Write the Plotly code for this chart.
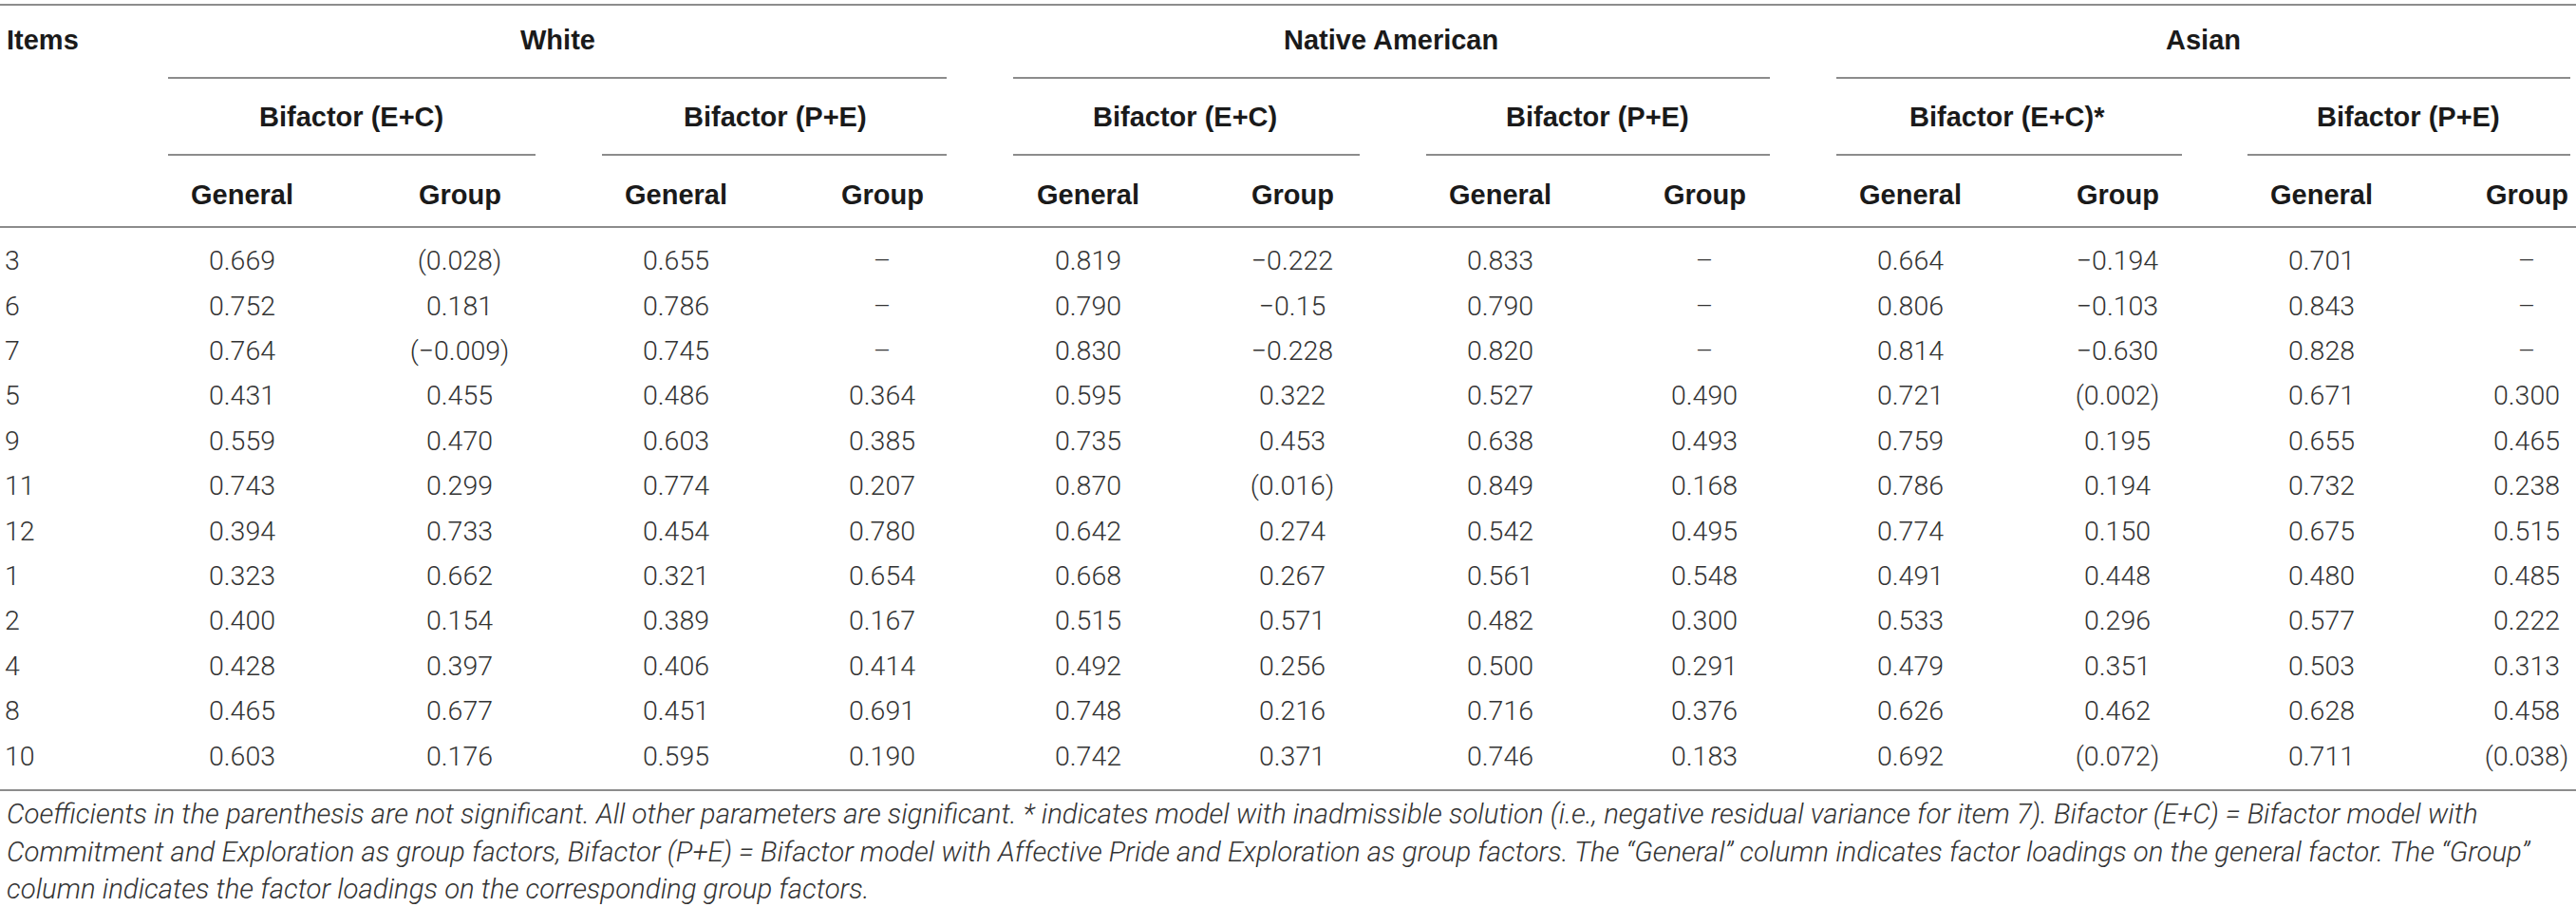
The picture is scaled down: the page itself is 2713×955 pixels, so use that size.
import plotly.graph_objects as go

# table content
items = ["3", "6", "7", "5", "9", "11", "12", "1", "2", "4", "8", "10"]

white_ec_general = ["0.669", "0.752", "0.764", "0.431", "0.559", "0.743", "0.394", "0.323", "0.400", "0.428", "0.465", "0.603"]
white_ec_group = ["(0.028)", "0.181", "(−0.009)", "0.455", "0.470", "0.299", "0.733", "0.662", "0.154", "0.397", "0.677", "0.176"]
white_pe_general = ["0.655", "0.786", "0.745", "0.486", "0.603", "0.774", "0.454", "0.321", "0.389", "0.406", "0.451", "0.595"]
white_pe_group = ["–", "–", "–", "0.364", "0.385", "0.207", "0.780", "0.654", "0.167", "0.414", "0.691", "0.190"]

na_ec_general = ["0.819", "0.790", "0.830", "0.595", "0.735", "0.870", "0.642", "0.668", "0.515", "0.492", "0.748", "0.742"]
na_ec_group = ["−0.222", "−0.15", "−0.228", "0.322", "0.453", "(0.016)", "0.274", "0.267", "0.571", "0.256", "0.216", "0.371"]
na_pe_general = ["0.833", "0.790", "0.820", "0.527", "0.638", "0.849", "0.542", "0.561", "0.482", "0.500", "0.716", "0.746"]
na_pe_group = ["–", "–", "–", "0.490", "0.493", "0.168", "0.495", "0.548", "0.300", "0.291", "0.376", "0.183"]

asian_ec_general = ["0.664", "0.806", "0.814", "0.721", "0.759", "0.786", "0.774", "0.491", "0.533", "0.479", "0.626", "0.692"]
asian_ec_group = ["−0.194", "−0.103", "−0.630", "(0.002)", "0.195", "0.194", "0.150", "0.448", "0.296", "0.351", "0.462", "(0.072)"]
asian_pe_general = ["0.701", "0.843", "0.828", "0.671", "0.655", "0.732", "0.675", "0.480", "0.577", "0.503", "0.628", "0.711"]
asian_pe_group = ["–", "–", "–", "0.300", "0.465", "0.238", "0.515", "0.485", "0.222", "0.313", "0.458", "(0.038)"]

groups = ["White", "Native American", "Asian"]
models = ["Bifactor (E+C)", "Bifactor (P+E)", "Bifactor (E+C)", "Bifactor (P+E)", "Bifactor (E+C)*", "Bifactor (P+E)"]
sub_cols = ["General", "Group"] * 6

footnote = [
    "Coefficients in the parenthesis are not significant. All other parameters are significant. * indicates model with "
    "inadmissible solution (i.e., negative residual variance for item 7). Bifactor (E+C) = Bifactor model with",
    "Commitment and Exploration as group factors, Bifactor (P+E) = Bifactor model with Affective Pride and Exploration "
    "as group factors. The “General” column indicates factor loadings on the general factor. The “Group”",
    "column indicates the factor loadings on the corresponding group factors.",
]

columns = [white_ec_general, white_ec_group, white_pe_general, white_pe_group,
           na_ec_general, na_ec_group, na_pe_general, na_pe_group,
           asian_ec_general, asian_ec_group, asian_pe_general, asian_pe_group]

# layout, in page pixels (axes map 1:1 onto the page)
W, H = 2713, 955
col_x = [255, 484, 712, 929, 1146, 1361, 1580, 1795, 2012, 2230, 2445, 2661]
group_x = [587, 1465, 2320]
model_x = [370, 816, 1248, 1682, 2114, 2536]
group_spans = [(177, 997), (1067, 1864), (1934, 2707)]
model_spans = [(177, 564), (634, 997), (1067, 1432), (1502, 1864), (1934, 2298), (2367, 2707)]
row0, row_step = 277, 47.4
row_y = [row0 + i * row_step for i in range(len(items))]

HEAD = dict(family="Liberation Sans, Arial, sans-serif", size=29, color="#1a1a1a", weight="bold")
BODY = dict(family="Roboto, Liberation Sans, sans-serif", size=28.5, color="#333333", weight=300)
NOTE = dict(family="Roboto, Liberation Sans, sans-serif", size=29.4, color="#333333", weight=300, style="italic")
LINE = dict(color="#8c8c8c", width=2)

fig = go.Figure()

fig.add_trace(go.Scatter(x=[5] * len(items), y=row_y, mode="text", text=items,
                         textposition="middle right", textfont=BODY, hoverinfo="skip",
                         cliponaxis=False))
for cx, vals in zip(col_x, columns):
    fig.add_trace(go.Scatter(x=[cx] * len(vals), y=row_y, mode="text", text=vals,
                             textposition="middle center", textfont=BODY, hoverinfo="skip",
                             cliponaxis=False))

ann = [dict(x=5, y=42, text="Items", xanchor="left", font=HEAD)]
ann += [dict(x=gx, y=42, text=g, font=HEAD) for gx, g in zip(group_x, groups)]
ann += [dict(x=mx, y=123, text=m, font=HEAD) for mx, m in zip(model_x, models)]
ann += [dict(x=cx, y=205, text=s, font=HEAD) for cx, s in zip(col_x, sub_cols)]
ann += [dict(x=5, y=857 + i * 39.5, text=t, xanchor="left", font=NOTE) for i, t in enumerate(footnote)]
for a in ann:
    a.update(xref="x", yref="y", showarrow=False, yanchor="middle")
    a.setdefault("xanchor", "center")

shapes = [dict(type="line", x0=0, x1=W, y0=y, y1=y, line=LINE) for y in (5, 239, 832)]
shapes += [dict(type="line", x0=a, x1=b, y0=82, y1=82, line=LINE) for a, b in group_spans]
shapes += [dict(type="line", x0=a, x1=b, y0=163, y1=163, line=LINE) for a, b in model_spans]
for s in shapes:
    s.update(xref="x", yref="y")

fig.update_layout(
    width=W, height=H,
    margin=dict(l=0, r=0, t=0, b=0),
    paper_bgcolor="white", plot_bgcolor="white",
    showlegend=False,
    xaxis=dict(range=[0, W], visible=False, fixedrange=True),
    yaxis=dict(range=[H, 0], visible=False, fixedrange=True),
    annotations=ann,
    shapes=shapes,
)

# drop the browser's default 8px body margin so the figure sits at the page origin
fig.write_html("out.html", config={"displayModeBar": False},
               post_script="document.body.style.margin='0';document.body.style.overflow='hidden';")
